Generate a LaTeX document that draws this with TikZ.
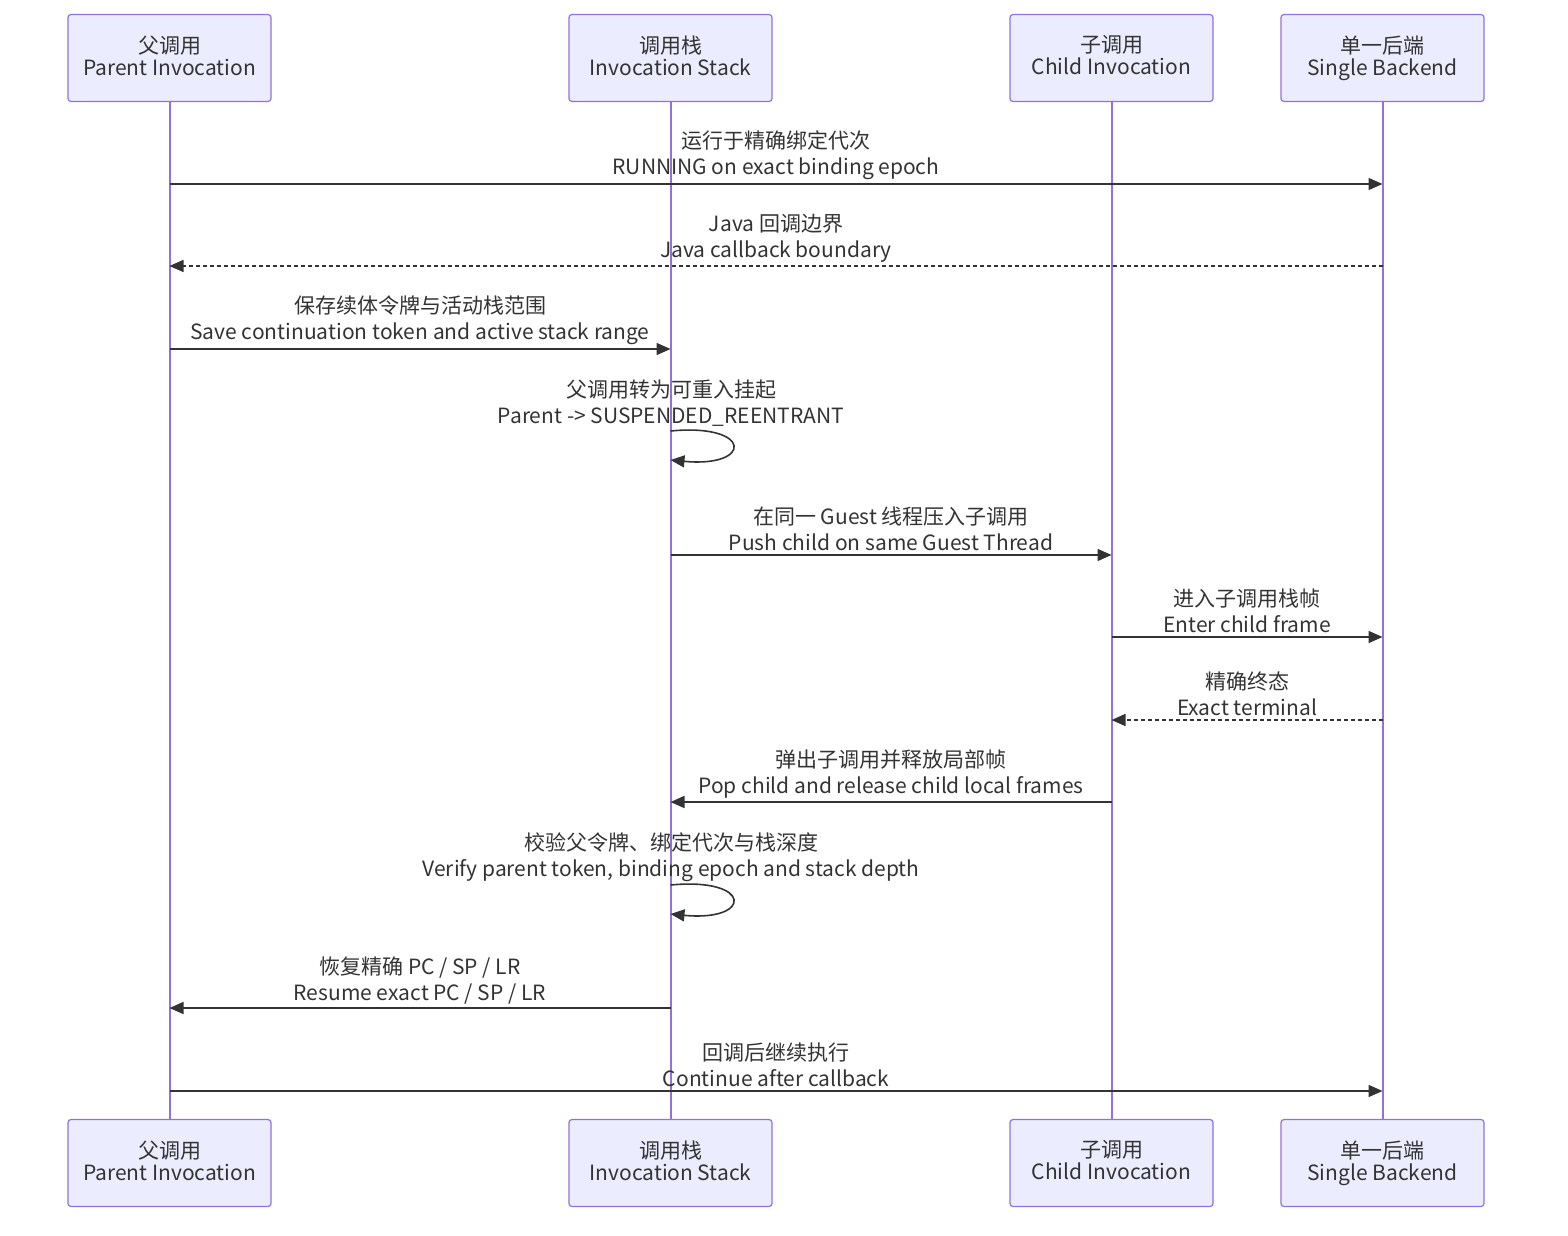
\documentclass[tikz,border=0pt]{standalone}
\usepackage{fontspec}
\setmainfont{Noto Sans CJK SC}
\usetikzlibrary{arrows.meta,positioning,calc}
\definecolor{inkDark}{HTML}{333333}
\definecolor{actorFill}{HTML}{ECECFF}
\definecolor{actorEdge}{HTML}{9370DB}
\definecolor{lifeLine}{HTML}{9370DB}

\begin{document}
\begin{tikzpicture}[
  x=0.5pt, y=-0.5pt,
  font=\fontsize{10.5}{11}\selectfont,
  actor/.style={
    rectangle, rounded corners=1.5pt, draw=actorEdge, fill=actorFill,
    line width=0.6pt, align=center, text=inkDark,
    minimum width=101.5pt, minimum height=43.5pt, inner sep=2pt},
  life/.style={draw=lifeLine, line width=1pt},
  msg/.style={-{Triangle[length=7pt,width=6pt]}, line width=0.8pt, draw=inkDark},
  reply/.style={msg, dash pattern=on 2pt off 1.5pt},
  lbl/.style={align=center, text=inkDark, inner sep=0pt,
              font=\fontsize{10.5}{13}\selectfont},
]
\useasboundingbox (0,0) rectangle (1568,1236);

% =============================== actors ====================================
\node[actor] at (169.5,58)   (parT)  {父调用\\Parent Invocation\vphantom{g}};
\node[actor] at (670.5,58)   (stkT)  {调用栈\\Invocation Stack\vphantom{g}};
\node[actor] at (1111.5,58)  (chdT)  {子调用\\Child Invocation\vphantom{g}};
\node[actor] at (1382.5,58)  (bckT)  {单一后端\\Single Backend\vphantom{g}};

\node[actor] at (169.5,1163)  (parB)  {父调用\\Parent Invocation\vphantom{g}};
\node[actor] at (670.5,1163)  (stkB)  {调用栈\\Invocation Stack\vphantom{g}};
\node[actor] at (1111.5,1163) (chdB)  {子调用\\Child Invocation\vphantom{g}};
\node[actor] at (1382.5,1163) (bckB)  {单一后端\\Single Backend\vphantom{g}};

% lifelines
\foreach \a in {par,stk,chd,bck}
  \draw[life] (\a T.south) -- (\a B.north);

% =============================== messages ==================================
\draw[msg] (parT |- 0,184) -- (bckT |- 0,184)
  node[lbl, midway, above=1.5pt] (m1) {运行于精确绑定代次\\RUNNING on exact binding epoch};

\draw[reply] (bckT |- 0,266) -- (parT |- 0,266)
  node[lbl, midway, above=1.5pt] (m2) {Java 回调边界\\Java callback boundary};

\draw[msg] (parT |- 0,349) -- (stkT |- 0,349)
  node[lbl, midway, above=1.5pt] (m3) {保存续体令牌与活动栈范围\\Save continuation token and active stack range};

% self call: parent suspended
\node[lbl] at (671,403) (m4) {父调用转为可重入挂起\\Parent -> SUSPENDED\_REENTRANT};
\draw[msg] (stkT |- 0,431) .. controls (753,423) and (753,468) .. (stkT |- 0,460);

\draw[msg] (stkT |- 0,555) -- (chdT |- 0,555)
  node[lbl, midway, above=1.5pt] (m5) {在同一 Guest 线程压入子调用\\Push child on same Guest Thread};

\draw[msg] (chdT |- 0,637) -- (bckT |- 0,637)
  node[lbl, midway, above=1.5pt] (m6) {进入子调用栈帧\\Enter child frame};

\draw[reply] (bckT |- 0,720) -- (chdT |- 0,720)
  node[lbl, midway, above=1.5pt] (m7) {精确终态\\Exact terminal};

\draw[msg] (chdT |- 0,802) -- (stkT |- 0,802)
  node[lbl, midway, above=1.5pt] (m8) {弹出子调用并释放局部帧\\Pop child and release child local frames};

% self call: verify
\node[lbl] at (671,857) (m9) {校验父令牌、绑定代次与栈深度\\Verify parent token, binding epoch and stack depth};
\draw[msg] (stkT |- 0,885) .. controls (753,877) and (753,922) .. (stkT |- 0,914);

\draw[msg] (stkT |- 0,1008) -- (parT |- 0,1008)
  node[lbl, midway, above=1.5pt] (m10) {恢复精确 PC / SP / LR\\Resume exact PC / SP / LR};

\draw[msg] (parT |- 0,1091) -- (bckT |- 0,1091)
  node[lbl, midway, above=1.5pt] (m11) {回调后继续执行\\Continue after callback};

\end{tikzpicture}
\end{document}
